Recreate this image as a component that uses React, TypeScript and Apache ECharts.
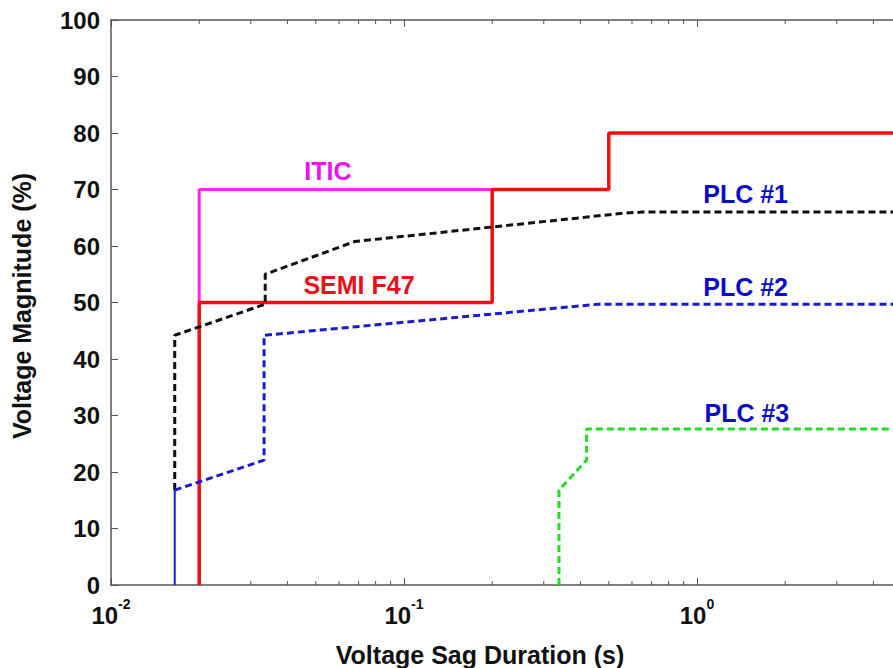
import React, { useEffect, useRef } from "react";
import * as echarts from "echarts";

// ---- data (duration in s, magnitude in %) ----
const iticCurve: [number, number][] = [
  [0.02, 50], [0.02, 70], [0.5, 70],
];
const semiF47: [number, number][] = [
  [0.02, 0], [0.02, 50], [0.2, 50], [0.2, 70], [0.5, 70], [0.5, 80], [10, 80],
];
const plc1: [number, number][] = [
  [0.0165, 16.8], [0.0165, 44.2], [0.0336, 49.7], [0.0336, 55.0],
  [0.068, 60.8], [0.56, 65.8], [0.65, 66.0], [10, 66.0],
];
const plc2Base: [number, number][] = [
  [0.0165, 0], [0.0165, 16.8],
];
const plc2: [number, number][] = [
  [0.0165, 16.8], [0.0333, 22.1], [0.0333, 44.2], [0.46, 49.7], [10, 49.7],
];
const plc3: [number, number][] = [
  [0.338, 0], [0.338, 16.8], [0.42, 22.1], [0.42, 27.6], [10, 27.6],
];

const curveLabels = [
  { name: "ITIC", value: [0.055, 73.3], color: "#ee11ee" },
  { name: "SEMI F47", value: [0.0702, 53.1], color: "#e8101a" },
  { name: "PLC #1", value: [1.465, 69.2], color: "#0c0cc8" },
  { name: "PLC #2", value: [1.465, 52.7], color: "#0c0cc8" },
  { name: "PLC #3", value: [1.48, 30.5], color: "#0c0cc8" },
];

const minorTicks: number[] = [
  0.02, 0.03, 0.04, 0.05, 0.06, 0.07, 0.08, 0.09,
  0.2, 0.3, 0.4, 0.5, 0.6, 0.7, 0.8, 0.9,
  2, 3, 4, 5, 6, 7, 8, 9,
];

const X_MIN = 0.01;
const X_MAX = 10;
const Y_MIN = 0;
const Y_MAX = 100;
const Y_STEP = 10;

const FONT = "'Liberation Sans', Arial, Helvetica, sans-serif";
const AXIS_COLOR = "#555";

export default function App() {
  const ref = useRef<HTMLDivElement>(null);

  useEffect(() => {
    if (!ref.current) return;
    const chart = echarts.init(ref.current, undefined, { renderer: "svg" });

    const xLabel = (v: number) => {
      const e = Math.round(Math.log10(v));
      return "{b|10}{s|" + e + "}";
    };

    const dashed = (color: string) => ({
      color,
      width: 3,
      type: [7, 4] as number[],
    });

    const option: any = {
      animation: false,
      backgroundColor: "#fff",
      grid: { left: 111, top: 20, right: 10, bottom: 83, containLabel: false },
      xAxis: [
        {
          type: "log",
          logBase: 10,
          min: X_MIN,
          max: X_MAX,
          position: "bottom",
          axisLine: { show: true, onZero: false, lineStyle: { color: AXIS_COLOR, width: 1.5 } },
          axisTick: { show: true, inside: true, length: 7, lineStyle: { color: AXIS_COLOR, width: 1 } },
          splitLine: { show: false },
          axisLabel: {
            show: true,
            margin: 12,
            showMinLabel: true,
            showMaxLabel: false,
            formatter: xLabel,
            rich: {
              b: { fontSize: 24, fontWeight: "bold", fontFamily: FONT, color: "#111", lineHeight: 30, verticalAlign: "bottom" },
              s: { fontSize: 14, fontWeight: "bold", fontFamily: FONT, color: "#111", verticalAlign: "top", lineHeight: 30 },
            },
          },
        },
        {
          type: "log",
          logBase: 10,
          min: X_MIN,
          max: X_MAX,
          position: "top",
          axisLine: { show: true, onZero: false, lineStyle: { color: AXIS_COLOR, width: 1.5 } },
          axisTick: { show: true, inside: true, length: 7, lineStyle: { color: AXIS_COLOR, width: 1 } },
          axisLabel: { show: false },
          splitLine: { show: false },
        },
      ],
      yAxis: [
        {
          type: "value",
          min: Y_MIN,
          max: Y_MAX,
          interval: Y_STEP,
          axisLine: { show: true, onZero: false, lineStyle: { color: AXIS_COLOR, width: 1.5 } },
          axisTick: { show: true, inside: true, length: 7, lineStyle: { color: AXIS_COLOR, width: 1 } },
          splitLine: { show: false },
          axisLabel: {
            margin: 11,
            fontSize: 24,
            fontWeight: "bold",
            fontFamily: FONT,
            color: "#111",
          },
        },
      ],
      graphic: [
        {
          type: "text",
          x: 480,
          y: 655,
          style: {
            text: "Voltage Sag Duration (s)",
            fontSize: 25,
            fontWeight: "bold",
            fontFamily: FONT,
            fill: "#111",
            textAlign: "center",
            textVerticalAlign: "middle",
          },
        },
        {
          type: "text",
          x: 22,
          y: 306,
          rotation: Math.PI / 2,
          style: {
            text: "Voltage Magnitude (%)",
            fontSize: 25,
            fontWeight: "bold",
            fontFamily: FONT,
            fill: "#111",
            textAlign: "center",
            textVerticalAlign: "middle",
          },
        },
      ],
      series: [
        {
          type: "custom",
          name: "minor ticks",
          clip: false,
          silent: true,
          data: minorTicks.map((v) => [v, 0]),
          encode: { x: 0, y: 1 },
          renderItem: (_params: any, api: any) => {
            const x = api.value(0);
            const b = api.coord([x, Y_MIN]);
            const t = api.coord([x, Y_MAX]);
            const st = { stroke: AXIS_COLOR, lineWidth: 1 };
            return {
              type: "group",
              children: [
                { type: "line", shape: { x1: b[0], y1: b[1], x2: b[0], y2: b[1] - 4 }, style: st },
                { type: "line", shape: { x1: t[0], y1: t[1], x2: t[0], y2: t[1] + 4 }, style: st },
              ],
            };
          },
        },
        {
          type: "line",
          name: "ITIC",
          data: iticCurve,
          symbol: "none",
          lineStyle: { color: "#ff22ff", width: 3 },
        },
        {
          type: "line",
          name: "SEMI F47",
          data: semiF47,
          symbol: "none",
          lineStyle: { color: "#f01010", width: 3.5 },
        },
        {
          type: "line",
          name: "PLC #1",
          data: plc1,
          symbol: "none",
          lineStyle: dashed("#111"),
        },
        {
          type: "line",
          name: "PLC #2 base",
          data: plc2Base,
          symbol: "none",
          lineStyle: { color: "#1a1ad0", width: 2 },
        },
        {
          type: "line",
          name: "PLC #2",
          data: plc2,
          symbol: "none",
          lineStyle: dashed("#1a1ad0"),
        },
        {
          type: "line",
          name: "PLC #3",
          data: plc3,
          symbol: "none",
          lineStyle: dashed("#22dd22"),
        },
        {
          type: "scatter",
          name: "labels",
          symbolSize: 0,
          silent: true,
          itemStyle: { opacity: 1 },
          data: curveLabels.map((l) => ({
            name: l.name,
            value: l.value,
            label: {
              show: true,
              position: "inside",
              formatter: "{b}",
              color: l.color,
              opacity: 1,
              fontSize: 25,
              fontWeight: "bold",
              fontFamily: FONT,
            },
          })),
        },
      ],
    };

    chart.setOption(option);
    return () => chart.dispose();
  }, []);

  return (
    <div
      style={{
        position: "fixed",
        left: 0,
        top: 0,
        width: 893,
        height: 668,
        overflow: "hidden",
        background: "#fff",
      }}
    >
      <div ref={ref} style={{ width: 1000, height: 668 }} />
    </div>
  );
}
